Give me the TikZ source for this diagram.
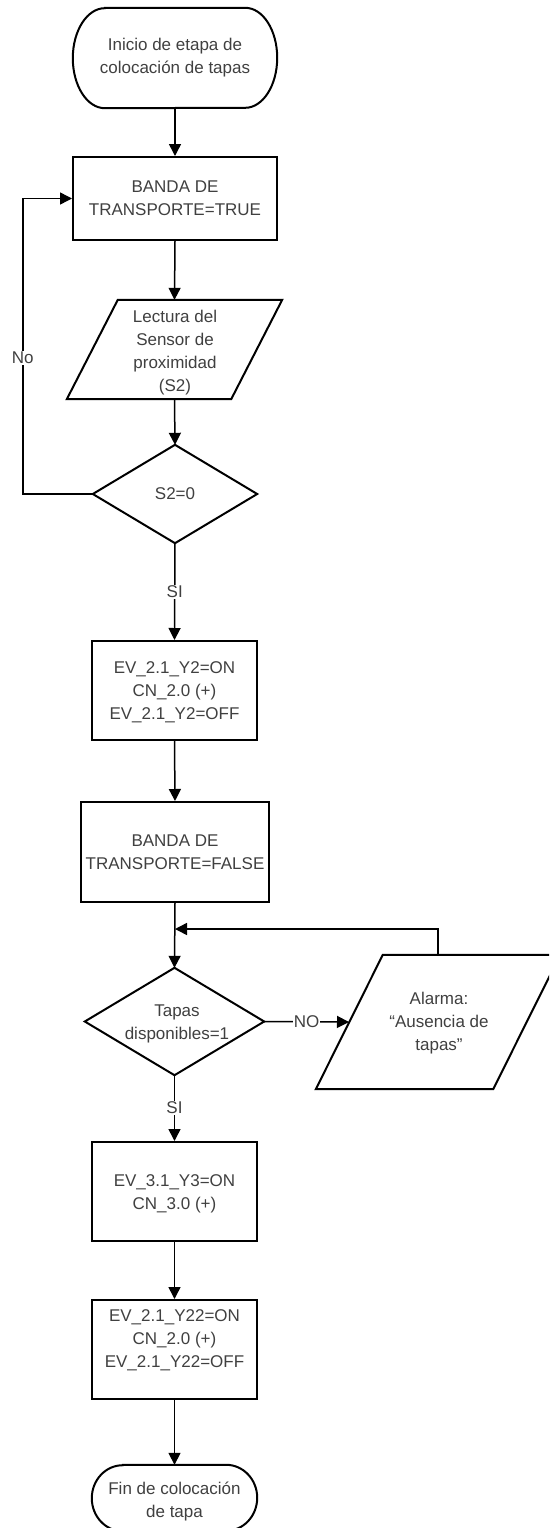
\documentclass[tikz,border=0pt]{standalone}
\usepackage{fontspec}
\setmainfont{Liberation Sans}
\usetikzlibrary{arrows.meta,calc}
\definecolor{txt}{HTML}{404040}
\begin{document}
\begin{tikzpicture}[x=1pt,y=-1pt,
  box/.style={draw=none,rectangle,inner sep=0pt,align=center,text=txt,
    font=\fontsize{17}{23}\selectfont},
  outline/.style={draw=black,line width=2pt,line join=miter},
  arrow/.style={draw=black,line width=1.5pt,-{Triangle[width=12pt,length=12pt]}},
  plain/.style={draw=black,line width=1.5pt},
  lbl/.style={fill=white,inner sep=1pt,text=txt,font=\fontsize{17}{20}\selectfont}]
\clip (0,0) rectangle (549,1528);
\fill[white] (0,0) rectangle (549,1528);

% start terminal
\node[box,minimum width=204pt,minimum height=100pt] (start) at (175,58) {Inicio de etapa de\\colocación de tapas};
\draw[outline] ($(start.north west)+(32,0)$) -- ($(start.north east)+(-32,0)$)
  arc[start angle=90,end angle=-90,x radius=32pt,y radius=50pt]
  -- ($(start.south west)+(32,0)$)
  arc[start angle=270,end angle=90,x radius=32pt,y radius=50pt] -- cycle;

% banda true
\node[box,draw=black,line width=2pt,minimum width=204pt,minimum height=83pt] (b1) at (175,198.5) {BANDA DE\\TRANSPORTE=TRUE};

% lectura sensor
\node[box,minimum width=215pt,minimum height=99pt] (read) at (174.5,349.5) {};
\draw[outline] ($(read.north west)+(51,0)$) -- (read.north east) -- ($(read.south east)+(-51,0)$) -- (read.south west) -- cycle;
\node[box] (readtxt) at (175,352.5) {Lectura del\\Sensor de\\proximidad\\(S2)};

% decision S2
\node[box,minimum width=164pt,minimum height=98pt] (d1) at (175,494) {S2=0};
\draw[outline] (d1.north) -- (d1.east) -- (d1.south) -- (d1.west) -- cycle;

% EV 2.1 Y2
\node[box,draw=black,line width=2pt,minimum width=165pt,minimum height=99pt] (b2) at (174.5,690.5) {};
\node[box] (b2txt) at (174.5,692.5) {EV\_2.1\_Y2=ON\\CN\_2.0 (+)\\EV\_2.1\_Y2=OFF};

% banda false
\node[box,draw=black,line width=2pt,minimum width=188pt,minimum height=100pt] (b3) at (175,852) {BANDA DE\\TRANSPORTE=FALSE};

\coordinate (merge) at (175,929);

% decision tapas
\node[box,minimum width=179pt,minimum height=107pt] (d2) at (174.5,1021.5) {};
\draw[outline] (d2.north) -- (d2.east) -- (d2.south) -- (d2.west) -- cycle;
\node[box] (d2txt) at (177,1024) {Tapas\\disponibles=1};

% alarma
\node[box,minimum width=244pt,minimum height=134pt] (alarm) at (438,1022) {};
\draw[outline] ($(alarm.north west)+(67,0)$) -- (alarm.north east) -- ($(alarm.south east)+(-67,0)$) -- (alarm.south west) -- cycle;
\node[box] (alarmtxt) at (439,1023.5) {Alarma:\\“Ausencia de\\tapas”};
\coordinate (alarmL) at (349,1022);

% EV 3.1
\node[box,draw=black,line width=2pt,minimum width=165pt,minimum height=99pt] (b4) at (174.5,1191.5) {};
\node[box] (b4txt) at (174.5,1194) {EV\_3.1\_Y3=ON\\CN\_3.0 (+)};

% EV 2.1 Y22
\node[box,draw=black,line width=2pt,minimum width=165pt,minimum height=99pt] (b5) at (174.5,1349.5) {};
\node[box] (b5txt) at (174.5,1340) {EV\_2.1\_Y22=ON\\CN\_2.0 (+)\\EV\_2.1\_Y22=OFF};

% end terminal
\node[box,minimum width=165pt,minimum height=66pt] (end) at (174.5,1498) {};
\draw[outline] ($(end.north west)+(31,0)$) -- ($(end.north east)+(-31,0)$)
  arc[start angle=90,end angle=-90,x radius=31pt,y radius=33pt]
  -- ($(end.south west)+(31,0)$)
  arc[start angle=270,end angle=90,x radius=31pt,y radius=33pt] -- cycle;
\node[box] (endtxt) at (174.5,1501) {Fin de colocación\\de tapa};

% connectors
\draw[arrow] (start.south) -- (b1.north);
\draw[arrow] (b1.south) -- (read.north);
\draw[arrow] (read.south) -- (d1.north);
\draw[arrow] (d1.west) -- ++(-70,0) |- node[lbl,pos=0.23] {No} (b1.west);
\draw[arrow] (d1.south) -- node[lbl] {SI} (b2.north);
\draw[arrow] (b2.south) -- (b3.north);
\draw[arrow] (b3.south) -- (d2.north);
\draw[arrow] (d2.east) -- node[lbl] {NO} (alarmL);
\draw[arrow] (alarm.north) |- (merge);
\draw[arrow] (d2.south) -- node[lbl] {SI} (b4.north);
\draw[arrow] (b4.south) -- (b5.north);
\draw[arrow] (b5.south) -- (end.north);
\end{tikzpicture}
\end{document}
